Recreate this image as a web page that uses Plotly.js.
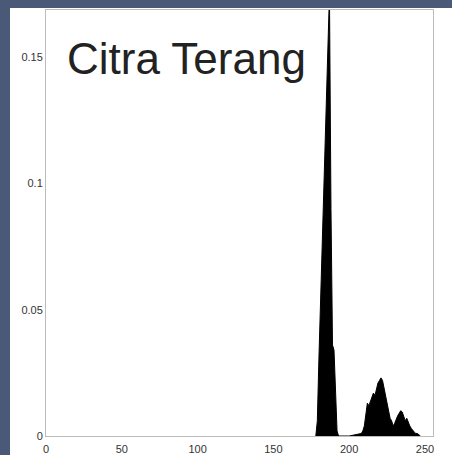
<!DOCTYPE html>
<html>
<head>
<meta charset="utf-8">
<script src="https://cdn.plot.ly/plotly-3.0.1.min.js"></script>
<style>
html,body{margin:0;padding:0;background:#4a5977;width:452px;height:455px;overflow:hidden;}
#chart{position:absolute;left:10px;top:8px;width:442px;height:447px;background:#fff;}
</style>
</head>
<body>
<div id="chart"></div>
<script>
// Grey level (intensity) and normalised frequency
const levels = [178,179,180,181,182,183,184,185,186,187,188,189,190,191,192,193,
  200,208,209,210,211,212,213,214,215,216,217,218,219,220,221,222,223,224,225,226,227,228,
  229,230,231,232,233,234,235,236,237,238,239,240,241,242,243,244,245,246,247];
const freq = [0,0.006,0.030,0.050,0.068,0.088,0.108,0.128,0.150,0.175,0.090,0.036,0.034,0.018,0.002,0,
  0,0.001,0.002,0.004,0.010,0.013,0.012,0.014,0.016,0.017,0.016,0.019,0.021,0.022,0.023,0.022,0.019,0.015,0.012,0.009,0.007,0.006,
  0.004,0.005,0.007,0.008,0.009,0.010,0.0095,0.008,0.006,0.007,0.005,0.004,0.003,0.002,0.0015,0.001,0.001,0.0005,0];
const xTicks = [0,50,100,150,200,250];
const yTicks = [0,0.05,0.1,0.15];
const yTickText = ['0','0.05','0.1','0.15'];
const titleText = 'Citra Terang';

const trace = {
  x: levels, y: freq, type: 'scatter', mode: 'lines',
  line: {color: '#000', width: 1}, fill: 'tozeroy', fillcolor: '#000',
  hoverinfo: 'skip'
};
const layout = {
  width: 442, height: 447,
  margin: {l: 36, r: 19, t: 2, b: 19, pad: 0},
  paper_bgcolor: '#fff', plot_bgcolor: '#fff',
  showlegend: false,
  font: {family: 'Liberation Sans, Arial, sans-serif', color: '#333', size: 11},
  xaxis: {range: [0, 255.3], tickvals: xTicks, ticktext: xTicks.map(String),
    showgrid: false, zeroline: false, showline: true, linecolor: '#bbb', linewidth: 1, mirror: true,
    ticks: '', ticklabelstandoff: 3, tickfont: {size: 11, color: '#333'}},
  yaxis: {range: [0, 0.1686], tickvals: yTicks, ticktext: yTickText,
    showgrid: false, zeroline: false, showline: true, linecolor: '#bbb', linewidth: 1, mirror: true,
    ticks: '', tickfont: {size: 11, color: '#333'}},
  annotations: [{text: titleText, xref: 'paper', yref: 'paper', x: 0.050, y: 0.887,
    xanchor: 'left', yanchor: 'middle', showarrow: false,
    font: {family: 'Liberation Sans, Arial, sans-serif', size: 44, color: '#222'}}]
};
Plotly.newPlot('chart', [trace], layout, {staticPlot: true, displayModeBar: false});
</script>
</body>
</html>
